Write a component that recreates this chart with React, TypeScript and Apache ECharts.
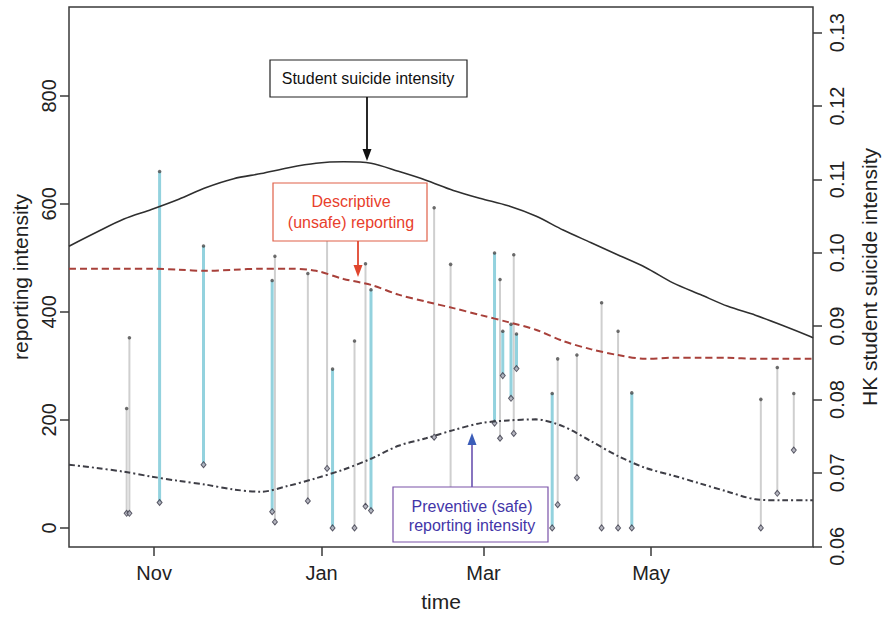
import React, { useEffect, useRef } from "react";
import * as echarts from "echarts";

// ---------- data ----------
const BASE_DATE = "2010-10-01";
const X_END = "2011-06-29";

const monthTickDates = ["2010-11-01", "2011-01-01", "2011-03-01", "2011-05-01"];
const monthTickLabels = ["Nov", "Jan", "Mar", "May"];

const leftTicks = [0, 200, 400, 600, 800];
const rightTicks = [0.06, 0.07, 0.08, 0.09, 0.1, 0.11, 0.12, 0.13];
const rightTickLabels = ["0.06", "0.07", "0.08", "0.09", "0.10", "0.11", "0.12", "0.13"];

const curveDates = [
  "2010-10-01", "2010-10-11", "2010-10-21", "2010-10-31", "2010-11-10", "2010-11-20",
  "2010-11-30", "2010-12-10", "2010-12-20", "2010-12-30", "2011-01-09", "2011-01-19",
  "2011-01-29", "2011-02-08", "2011-02-18", "2011-02-28", "2011-03-10", "2011-03-20",
  "2011-03-30", "2011-04-09", "2011-04-19", "2011-04-29", "2011-05-09", "2011-05-19",
  "2011-05-29", "2011-06-08", "2011-06-18", "2011-06-28", "2011-06-29",
];

// HK student suicide intensity (right axis)
const studentIntensity = [
  0.1009, 0.1028, 0.1046, 0.1059, 0.1073, 0.1089, 0.1101, 0.1108, 0.1116, 0.1122,
  0.1124, 0.1122, 0.1111, 0.1099, 0.1085, 0.1074, 0.1064, 0.105, 0.1031, 0.1014,
  0.0997, 0.098, 0.0959, 0.0943, 0.0927, 0.0915, 0.0901, 0.0886, 0.0884,
];

// Descriptive (unsafe) reporting intensity (left axis)
const descriptiveIntensity = [
  480, 480, 480, 480, 478, 476, 478, 480, 480, 476, 461, 450, 432, 419, 407, 394,
  381, 367, 346, 331, 320, 313, 315, 315, 315, 313, 313, 313, 313,
];

// Preventive (safe) reporting intensity (left axis)
const preventiveIntensity = [
  117, 111, 104, 95, 87, 80, 71, 67, 78, 92, 108, 128, 152, 166, 181, 194, 199, 201,
  188, 161, 133, 111, 97, 82, 67, 53, 51, 51, 51,
];

// individual reporting events
const eventDates = [
  "2010-10-22", "2010-10-23", "2010-11-03", "2010-11-19", "2010-12-14", "2010-12-15",
  "2010-12-27", "2011-01-03", "2011-01-05", "2011-01-13", "2011-01-17", "2011-01-19",
  "2011-02-11", "2011-02-17", "2011-03-05", "2011-03-07", "2011-03-08", "2011-03-11",
  "2011-03-12", "2011-03-13", "2011-03-26", "2011-03-28", "2011-04-04", "2011-04-13",
  "2011-04-19", "2011-04-24", "2011-06-10", "2011-06-16", "2011-06-22",
];
const eventTop = [
  221, 352, 660, 522, 458, 503, 471, 560, 294, 346, 489, 441, 593, 488, 509, 460, 364,
  377, 506, 359, 249, 313, 320, 417, 364, 250, 238, 297, 249,
];
const eventBottom = [
  27, 27, 47, 117, 30, 11, 50, 110, 0, 0, 40, 32, 168, 20, 194, 166, 282, 240, 175,
  295, 0, 43, 93, 0, 0, 0, 0, 64, 144,
];
const eventKind = [
  "gray", "gray", "blue", "blue", "blue", "gray", "gray", "gray", "blue", "gray", "gray",
  "blue", "gray", "gray", "blue", "gray", "blue", "blue", "gray", "blue", "blue", "gray",
  "gray", "gray", "gray", "blue", "gray", "gray", "gray",
];

// ---------- helpers ----------
const DAY = 86400000;
const baseMs = Date.parse(BASE_DATE + "T00:00:00Z");
const dayOf = (s: string) => Math.round((Date.parse(s + "T00:00:00Z") - baseMs) / DAY);

const FONT = '"Liberation Sans", Arial, sans-serif';

export default function App() {
  const ref = useRef<HTMLDivElement>(null);

  useEffect(() => {
    if (!ref.current) return;
    const chart = echarts.init(ref.current, undefined, { renderer: "svg" });

    const monthTickDays = monthTickDates.map(dayOf);
    const curveDays = curveDates.map(dayOf);
    const eventDays = eventDates.map(dayOf);

    const studentData = curveDays.map((d, i) => [d, studentIntensity[i]]);
    const descData = curveDays.map((d, i) => [d, descriptiveIntensity[i]]);
    const prevData = curveDays.map((d, i) => [d, preventiveIntensity[i]]);

    const segData = (kind: string) =>
      eventDays
        .map((d, i) => ({ d, i }))
        .filter((o) => eventKind[o.i] === kind)
        .map((o) => [o.d, eventTop[o.i], eventBottom[o.i]]);

    const makeSeg = (kind: string, color: string, width: number) => ({
      type: "custom",
      name: kind,
      xAxisIndex: 0,
      yAxisIndex: 0,
      z: 2,
      silent: true,
      encode: { x: 0, y: [1, 2] },
      data: segData(kind),
      renderItem: (params: any, api: any) => {
        const x = api.value(0);
        const p1 = api.coord([x, api.value(1)]);
        const p2 = api.coord([x, api.value(2)]);
        return {
          type: "line",
          shape: { x1: p1[0], y1: p1[1], x2: p2[0], y2: p2[1] },
          style: { stroke: color, lineWidth: width },
        };
      },
    });

    const topPoints = eventDays.map((d, i) => [d, eventTop[i]]);
    const bottomPoints = eventDays.map((d, i) => [d, eventBottom[i]]);

    const option: any = {
      animation: false,
      backgroundColor: "#ffffff",
      textStyle: { fontFamily: FONT },
      grid: {
        left: 69,
        right: 72,
        top: 7,
        bottom: 65,
        show: true,
        borderColor: "#3a3a3a",
        borderWidth: 1.5,
        backgroundColor: "transparent",
      },
      xAxis: {
        type: "value",
        min: 0,
        max: dayOf(X_END),
        splitLine: { show: false },
        axisLine: { show: false, onZero: false },
        axisTick: {
          show: true,
          length: 9,
          customValues: monthTickDays,
          lineStyle: { color: "#3a3a3a", width: 1.5 },
        },
        axisLabel: {
          customValues: monthTickDays,
          formatter: (v: number) => {
            const k = monthTickDays.indexOf(Math.round(v));
            return k >= 0 ? monthTickLabels[k] : "";
          },
          fontSize: 20,
          color: "#222",
          margin: 16,
          fontFamily: FONT,
        },
        name: "time",
        nameLocation: "middle",
        nameGap: 44,
        nameTextStyle: { fontSize: 21, color: "#222", fontFamily: FONT },
      },
      yAxis: [
        {
          type: "value",
          min: -35.4,
          max: 964.6,
          splitLine: { show: false },
          axisLine: { show: false, onZero: false },
          axisTick: {
            show: true,
            length: 9,
            customValues: leftTicks,
            lineStyle: { color: "#3a3a3a", width: 1.5 },
          },
          axisLabel: {
            customValues: leftTicks,
            rotate: 90,
            fontSize: 20,
            color: "#222",
            margin: 10,
            fontFamily: FONT,
          },
          name: "reporting intensity",
          nameLocation: "middle",
          nameRotate: 90,
          nameGap: 37,
          nameTextStyle: { fontSize: 21, color: "#222", fontFamily: FONT },
        },
        {
          type: "value",
          position: "right",
          min: 0.0599,
          max: 0.1335,
          splitLine: { show: false },
          axisLine: { show: false, onZero: false },
          axisTick: {
            show: true,
            length: 9,
            customValues: rightTicks,
            lineStyle: { color: "#3a3a3a", width: 1.5 },
          },
          axisLabel: {
            customValues: rightTicks,
            rotate: 90,
            fontSize: 20,
            color: "#222",
            margin: 14,
            fontFamily: FONT,
            formatter: (v: number) => {
              let best = 0;
              rightTicks.forEach((t, i) => {
                if (Math.abs(t - v) < Math.abs(rightTicks[best] - v)) best = i;
              });
              return rightTickLabels[best];
            },
          },
          name: "HK student suicide intensity",
          nameLocation: "middle",
          nameRotate: 90,
          nameGap: 46,
          nameTextStyle: { fontSize: 21, color: "#222", fontFamily: FONT },
        },
      ],
      series: [
        makeSeg("gray", "#cfcfcf", 2),
        makeSeg("blue", "#93d2de", 3),
        {
          type: "scatter",
          name: "top",
          yAxisIndex: 0,
          z: 3,
          symbol: "circle",
          symbolSize: 3.5,
          itemStyle: { color: "#4a4a4a" },
          data: topPoints,
          silent: true,
        },
        {
          type: "scatter",
          name: "bottom",
          yAxisIndex: 0,
          z: 3,
          symbol: "diamond",
          symbolSize: [5, 6],
          itemStyle: { color: "#a8a8b4", borderColor: "#3a3a48", borderWidth: 1 },
          data: bottomPoints,
          silent: true,
        },
        {
          type: "line",
          name: "Student suicide intensity",
          yAxisIndex: 1,
          z: 4,
          smooth: 0.3,
          showSymbol: false,
          lineStyle: { color: "#2f2f2f", width: 1.6 },
          data: studentData,
          silent: true,
        },
        {
          type: "line",
          name: "Descriptive (unsafe) reporting",
          yAxisIndex: 0,
          z: 4,
          smooth: 0.3,
          showSymbol: false,
          lineStyle: { color: "#a8403a", width: 2, type: [7, 4] },
          data: descData,
          silent: true,
        },
        {
          type: "line",
          name: "Preventive (safe) reporting intensity",
          yAxisIndex: 0,
          z: 4,
          smooth: 0.3,
          showSymbol: false,
          lineStyle: { color: "#3e3e46", width: 2, type: [6, 3, 2, 3] },
          data: prevData,
          silent: true,
        },
      ],
      graphic: [
        // Student suicide intensity annotation
        {
          type: "rect",
          z: 100,
          shape: { x: 270, y: 60, width: 197, height: 37 },
          style: { fill: "#fff", stroke: "#222", lineWidth: 1.2 },
        },
        {
          type: "text",
          z: 101,
          style: {
            text: "Student suicide intensity",
            x: 368,
            y: 78,
            align: "center",
            verticalAlign: "middle",
            font: `16px ${FONT}`,
            fill: "#111",
          },
        },
        {
          type: "line",
          z: 100,
          shape: { x1: 367, y1: 97, x2: 367, y2: 152 },
          style: { stroke: "#111", lineWidth: 1.8 },
        },
        {
          type: "polygon",
          z: 100,
          shape: { points: [[367, 161], [362.5, 149], [371.5, 149]] },
          style: { fill: "#111" },
        },
        // Descriptive annotation
        {
          type: "rect",
          z: 100,
          shape: { x: 273, y: 183, width: 154, height: 58 },
          style: { fill: "#fff", stroke: "#e06048", lineWidth: 1.2 },
        },
        {
          type: "text",
          z: 101,
          style: {
            text: "Descriptive\n(unsafe) reporting",
            x: 351,
            y: 212,
            align: "center",
            verticalAlign: "middle",
            lineHeight: 21,
            font: `16px ${FONT}`,
            fill: "#e8402c",
          },
        },
        {
          type: "line",
          z: 100,
          shape: { x1: 358, y1: 241, x2: 358, y2: 268 },
          style: { stroke: "#e0462e", lineWidth: 1.8 },
        },
        {
          type: "polygon",
          z: 100,
          shape: { points: [[358, 277], [353.5, 265], [362.5, 265]] },
          style: { fill: "#e0462e" },
        },
        // Preventive annotation
        {
          type: "rect",
          z: 100,
          shape: { x: 393, y: 487, width: 155, height: 55 },
          style: { fill: "#fff", stroke: "#7a52a8", lineWidth: 1.2 },
        },
        {
          type: "text",
          z: 101,
          style: {
            text: "Preventive (safe)\nreporting intensity",
            x: 472,
            y: 516,
            align: "center",
            verticalAlign: "middle",
            lineHeight: 19,
            font: `16px ${FONT}`,
            fill: "#4336a8",
          },
        },
        {
          type: "line",
          z: 100,
          shape: { x1: 472, y1: 487, x2: 472, y2: 442 },
          style: { stroke: "#6a52b0", lineWidth: 1.6 },
        },
        {
          type: "polygon",
          z: 100,
          shape: { points: [[472, 433], [467.5, 445], [476.5, 445]] },
          style: { fill: "#3b5db8" },
        },
      ],
    };

    chart.setOption(option);
    return () => chart.dispose();
  }, []);

  return (
    <div
      ref={ref}
      style={{ position: "fixed", left: 0, top: 0, width: 888, height: 617, background: "#fff" }}
    />
  );
}
